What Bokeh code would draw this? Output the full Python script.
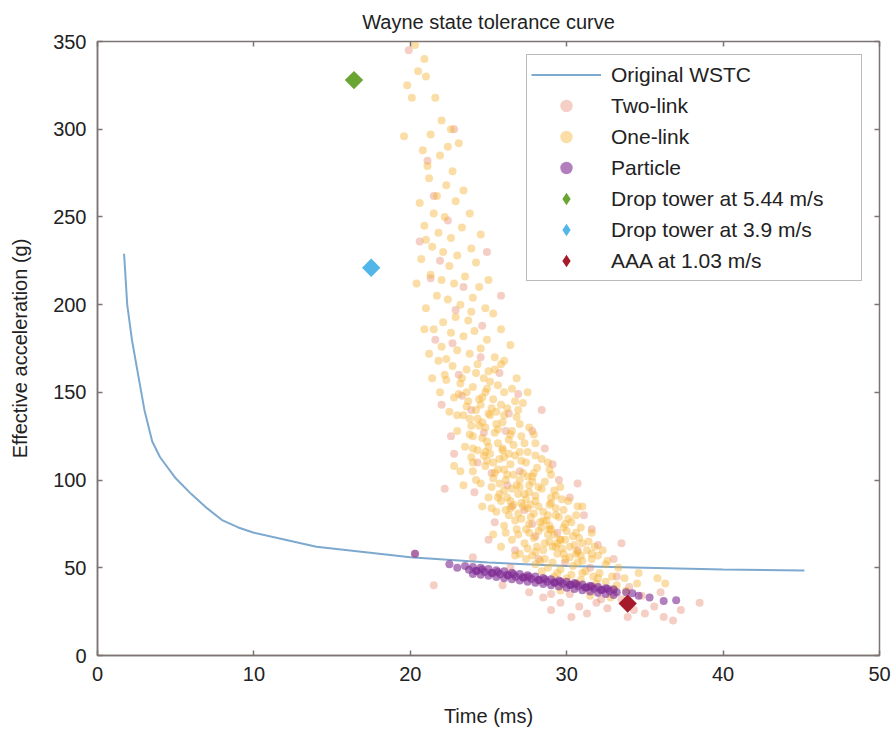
import math
from bokeh.plotting import figure
from bokeh.models import Legend, LegendItem, LinearAxis, Range1d, FixedTicker
from bokeh.embed import file_html
from bokeh.resources import INLINE

# ---- data ----
wstc_t = [1.7, 1.9, 2.2, 2.6, 3.0, 3.5, 4.0, 5.0, 6.0, 7.0, 8.0, 9.0, 10.0, 12.0, 14.0, 17.0, 20.0, 25.0, 30.0, 35.0, 40.0, 45.2]
wstc_g = [229, 200, 180, 160, 140, 122, 113, 101, 92, 84, 77, 73, 70, 66, 62, 59, 56, 53, 51, 50, 49, 48.5]

one_link_t = [20.3, 20.9, 19.8, 21.0, 21.6, 20.5, 22.0, 21.3, 22.6, 20.8, 21.9, 23.1, 19.6,
              21.2, 22.3, 21.7, 20.6, 22.9, 23.4, 21.5, 22.2,
              20.9, 21.8, 22.6, 23.3, 21.4, 22.1, 23.0, 23.9, 20.7, 22.5, 24.2,
              21.3, 22.0, 22.8, 23.5, 24.4, 21.7, 22.4, 23.2, 24.0, 24.8, 21.0, 22.9, 23.7, 22.1, 25.3,
              21.5, 22.6, 23.4, 24.1, 24.9, 22.0, 23.0, 23.8, 24.5, 25.4, 21.8, 22.7, 23.6, 24.3, 25.0, 26.0, 21.2, 24.7,
              22.3, 23.2, 24.0, 24.8, 25.6, 26.5, 22.8, 23.7, 24.5, 25.3, 26.2, 27.2, 22.5, 23.4, 24.3, 25.0, 25.9, 26.8, 23.9, 24.8, 27.6, 21.9,
              23.0, 23.8, 24.6, 25.4, 26.3, 27.1, 28.0, 23.5, 24.3, 25.1, 25.9, 26.7, 27.5, 28.4, 24.0, 24.8, 25.6, 26.4, 27.2, 28.1, 29.0, 23.2, 25.3, 26.1,
              24.5, 25.2, 26.0, 26.8, 27.6, 28.4, 29.3, 25.0, 25.8, 26.6, 27.4, 28.2, 29.0, 29.8, 25.5, 26.3, 27.1, 27.9, 28.7, 29.5, 30.3, 24.6, 31.0,
              26.0, 26.8, 27.6, 28.4, 29.2, 30.0, 30.8, 26.5, 27.3, 28.1, 28.9, 29.7, 30.5, 31.3, 27.0, 27.8, 28.6, 29.4, 30.2, 31.0, 32.0, 25.8, 32.5,
              28.0, 28.8, 29.6, 30.4, 31.2, 32.1, 29.2, 30.0, 30.9, 31.7, 32.5, 33.2, 31.4, 35.8, 33.8,
              24.2, 25.5, 26.6, 27.8, 28.8, 25.7, 26.9, 24.9, 23.6, 27.4,
              24.4, 25.9, 27.0, 28.3, 29.6, 26.2, 27.7, 25.1, 24.7, 28.9, 30.6, 26.4, 25.6, 29.1, 27.5,
              23.1, 24.6, 25.8, 26.9, 23.8, 25.5, 26.5, 24.0, 25.0, 27.9,
              23.9, 24.9, 26.0, 27.0, 28.8, 25.4, 26.6, 27.8, 28.6, 29.6, 24.2, 25.7, 27.1, 28.0, 29.2, 30.1, 26.2, 24.0, 23.4, 22.8,
              25.2, 26.1, 27.5, 28.5, 29.3, 30.6, 26.7, 27.6, 28.9, 29.9, 30.9, 31.6, 26.9, 27.9, 28.8, 29.6, 30.4, 31.4, 27.5, 28.5, 29.3, 30.7, 31.8, 32.3, 26.1, 25.3,
              28.3, 29.1, 29.9, 30.7, 31.6, 32.6, 28.4, 29.4, 30.3, 31.0, 32.0, 32.9, 33.3, 30.6, 31.9, 33.0, 34.5, 36.3, 31.5, 32.8, 29.6, 26.7, 27.4, 33.7, 34.6,
              20.1, 22.4, 21.1, 22.7, 23.8, 21.0, 24.5, 20.4, 25.0, 23.9, 25.8, 26.4, 22.3, 25.8, 26.8, 27.5, 21.4, 20.9,
              23.3, 24.2, 25.1, 26.0, 24.4, 25.2, 26.0, 27.0, 24.6, 25.6, 26.4, 27.3, 24.8, 25.6, 26.3, 27.1, 28.0, 25.3, 26.0, 27.0,
              27.9, 28.9, 25.7, 26.5, 27.3, 28.2, 29.0, 26.4, 27.2, 28.0, 28.9, 29.7, 26.9, 27.7, 28.5, 29.3, 30.1, 27.4, 28.2, 29.0,
              29.8, 30.6, 28.6, 29.4, 30.2, 31.0, 28.0, 29.8, 30.9, 31.6, 24.9, 23.6, 26.7, 25.4, 23.0, 22.2, 24.0, 27.6, 30.7, 29.9]
one_link_g = [348, 340, 325, 330, 318, 333, 305, 297, 300, 288, 285, 292, 296,
              272, 268, 262, 258, 259, 265, 252, 250,
              245, 241, 238, 244, 233, 230, 228, 232, 226, 222, 224,
              217, 214, 212, 216, 210, 205, 203, 200, 204, 198, 198, 193, 191, 190, 195,
              186, 184, 182, 185, 180, 176, 174, 172, 175, 170, 168, 165, 163, 166, 162, 168, 172, 158,
              157, 155, 153, 150, 154, 152, 147, 145, 143, 146, 141, 144, 139, 137, 135, 138, 133, 136, 131, 130, 130, 150,
              128, 126, 124, 127, 123, 125, 121, 119, 117, 115, 118, 114, 116, 112, 110, 108, 106, 109, 104, 107, 103, 105, 101, 100,
              98, 96, 94, 97, 93, 95, 91, 90, 88, 86, 89, 85, 87, 83, 82, 80, 78, 81, 77, 79, 76, 85, 85,
              74, 72, 70, 73, 69, 71, 67, 66, 64, 62, 65, 61, 63, 60, 58, 57, 55, 58, 56, 54, 57, 62, 52,
              52, 50, 49, 51, 48, 47, 45, 44, 43, 45, 42, 40, 39, 44, 37,
              140, 132, 120, 99, 80, 112, 92, 122, 150, 110,
              131, 117, 96, 76, 66, 103, 86, 137, 114, 72, 58, 84, 90, 62, 102,
              149, 147, 143, 140, 135, 139, 128, 125, 119, 126,
              113, 111, 113, 116, 110, 104, 103, 102, 99, 96, 100, 92, 87, 91, 94, 88, 90, 105, 97, 108,
              84, 83, 84, 82, 84, 80, 77, 75, 74, 75, 73, 70, 69, 67, 69, 66, 68, 65, 61, 60, 62, 59, 62, 60, 70, 69,
              54, 53, 55, 53, 55, 54, 48, 47, 46, 47, 44, 45, 50, 41, 41, 38, 41, 41, 34, 33, 37, 57, 55, 44, 47,
              318, 290, 279, 276, 252, 237, 240, 212, 214, 196, 186, 177, 169, 166, 158, 150, 158, 186,
              158, 161, 156, 150, 146, 141, 137, 132, 133, 129, 126, 121, 116, 121, 115, 111, 114, 110, 106, 100,
              104, 106, 98, 95, 92, 96, 90, 88, 85, 88, 86, 89, 81, 79, 77, 80, 78, 72, 71, 72,
              73, 70, 64, 64, 62, 64, 59, 58, 57, 58, 152, 142, 145, 163, 137, 160, 118, 97, 85, 66]

two_link_t = [19.9, 21.1, 22.4, 20.6, 22.9, 21.6, 24.6, 23.1, 22.0, 25.7, 26.9, 23.9, 24.7, 27.8, 22.8,
              25.2, 28.6, 29.5, 26.2, 24.1, 27.3, 30.2, 25.4, 28.0, 31.6, 26.7, 29.9, 33.0, 27.4, 21.5,
              20.3, 28.5, 29.6, 30.8, 31.9, 32.6, 33.5, 34.3, 35.0, 36.2, 36.8, 34.8, 35.6, 38.5, 30.2,
              31.3, 29.0, 25.9, 24.0, 26.1, 23.4, 21.9, 24.5, 27.0, 25.0, 22.2, 32.0, 33.2, 34.0, 26.4,
              22.8, 21.5, 24.9, 22.7, 23.3, 26.3, 28.4, 24.3, 29.1, 30.7, 26.5, 31.1, 27.8, 29.4, 33.5,
              30.7, 28.2, 31.5, 29.0, 32.2, 33.9, 30.3, 36.0, 37.3, 27.6, 22.6, 21.3, 25.8]
two_link_g = [345, 282, 248, 236, 197, 180, 188, 160, 143, 161, 149, 140, 127, 128, 115,
              104, 118, 100, 97, 93, 83, 90, 76, 68, 72, 60, 53, 55, 45, 40,
              58, 33, 30, 28, 30, 27, 32, 26, 24, 22, 20, 34, 28, 30, 35,
              24, 26, 40, 56, 128, 210, 225, 170, 105, 66, 95, 63, 45, 39, 50,
              300, 262, 230, 178, 148, 138, 140, 110, 109, 98, 85, 80, 75, 70, 64,
              60, 55, 50, 35, 32, 22, 22, 36, 26, 36, 125, 215, 205]

particle_t = [23.5, 24.0, 24.5, 25.0, 25.5, 26.0, 26.5, 27.0, 27.5, 28.0, 28.5, 29.0, 29.5, 30.0, 30.5, 31.0, 31.5, 32.0, 32.5, 33.0,
              24.0, 24.5, 25.0, 25.5, 26.0, 26.5, 27.0, 27.5, 28.0, 28.5, 29.0, 29.5, 30.0, 30.5, 31.0, 31.5, 32.0, 32.5, 33.0,
              24.2, 25.2, 26.2, 27.2, 28.2, 29.2, 30.2, 31.2, 32.2, 33.2,
              23.75, 24.25, 24.75, 25.25, 25.75, 26.25, 26.75, 27.25, 27.75, 28.25, 28.75, 29.25, 29.75, 30.25, 30.75, 31.25, 31.75, 32.25, 32.75,
              24.6, 25.6, 26.6, 27.6, 28.6, 29.6, 30.6, 31.6, 32.6,
              22.5, 20.3, 23.0, 33.8, 34.6, 35.3, 36.2, 37.0, 34.2]
particle_g = [51, 50.5, 50, 49.3, 48.6, 48, 47.2, 46.5, 45.8, 45, 44.2, 43.5, 42.7, 42, 41.3, 40.5, 39.8, 39, 38.3, 37.6,
              46.5, 46, 45.4, 44.8, 44.1, 43.5, 42.8, 42.1, 41.4, 40.7, 40, 39.3, 38.6, 37.9, 37.2, 36.5, 35.8, 35.1, 34.5,
              48.3, 47.2, 46, 44.6, 43.2, 41.8, 40.3, 38.8, 37.4, 36,
              48.9, 48.2, 47.6, 46.9, 46.3, 45.6, 44.9, 44.3, 43.6, 42.9, 42.2, 41.5, 40.9, 40.2, 39.5, 38.8, 38.1, 37.5, 36.8,
              49.0, 47.6, 46.3, 44.9, 43.5, 42.2, 40.8, 39.4, 38.1,
              52, 58, 50, 36, 34, 33, 31, 31.5, 35.5]

drop544_t, drop544_g = [16.4], [328]
drop39_t, drop39_g = [17.5], [221]
aaa_t, aaa_g = [33.9], [29.6]

x_ticks = [0, 10, 20, 30, 40, 50]
y_ticks = [0, 50, 100, 150, 200, 250, 300, 350]

FONT = "Liberation Sans"
AXC = "#7d7373"
TXT = "#222222"
GREEN, BLUE, RED = "#6aa432", "#52b6e8", "#a61b2b"

p = figure(width=894, height=729, output_backend="svg", toolbar_location=None,
           x_range=Range1d(0, 50), y_range=Range1d(0, 350),
           title="Wayne state tolerance curve",
           min_border_left=97, min_border_right=15, min_border_top=41, min_border_bottom=73)
p.title.align = "center"
p.title.text_font = FONT
p.title.text_font_size = "20px"
p.title.text_font_style = "normal"
p.title.text_color = TXT
p.title.standoff = 17
p.grid.visible = False
p.outline_line_color = AXC
p.outline_line_width = 1.5

for ax in (p.xaxis[0], p.yaxis[0]):
    ax.axis_line_color = AXC
    ax.axis_line_width = 1.5
    ax.major_tick_line_color = AXC
    ax.major_tick_line_width = 1.5
    ax.major_tick_in = 5
    ax.major_tick_out = 0
    ax.minor_tick_line_color = None
    ax.major_label_text_font = FONT
    ax.major_label_text_font_size = "20px"
    ax.major_label_text_color = TXT
    ax.axis_label_text_font = FONT
    ax.axis_label_text_font_size = "20px"
    ax.axis_label_text_font_style = "normal"
    ax.axis_label_text_color = TXT
p.xaxis[0].ticker = FixedTicker(ticks=x_ticks)
p.yaxis[0].ticker = FixedTicker(ticks=y_ticks)
p.xaxis[0].axis_label = "Time (ms)"
p.yaxis[0].axis_label = "Effective acceleration (g)"
p.xaxis[0].major_label_standoff = 11
p.yaxis[0].major_label_standoff = 11
p.xaxis[0].axis_label_standoff = 21
p.yaxis[0].axis_label_standoff = 19

top = LinearAxis(ticker=FixedTicker(ticks=x_ticks), major_label_text_font_size="0px",
                 axis_line_color=AXC, major_tick_line_color=AXC, major_tick_in=5, major_tick_out=0,
                 minor_tick_line_color=None, major_tick_line_width=1.5, major_label_standoff=0)
right = LinearAxis(ticker=FixedTicker(ticks=y_ticks), major_label_text_font_size="0px",
                   axis_line_color=AXC, major_tick_line_color=AXC, major_tick_in=5, major_tick_out=0,
                   minor_tick_line_color=None, major_tick_line_width=1.5, major_label_standoff=0)
p.add_layout(top, "above")
p.add_layout(right, "right")

r_wstc = p.line(wstc_t, wstc_g, line_color="#7ea9cf", line_width=2)
r_two = p.scatter(two_link_t, two_link_g, size=8, fill_color="#e3755a", fill_alpha=0.35, line_color=None)
r_one = p.scatter(one_link_t, one_link_g, size=8, fill_color="#f5b02e", fill_alpha=0.42, line_color=None)
r_part = p.scatter(particle_t, particle_g, size=8, fill_color="#7e2a92", fill_alpha=0.6, line_color=None)
# plain diamonds (used as legend swatches), covered by the wider rotated squares drawn on top
l_d1 = p.scatter(drop544_t, drop544_g, marker="diamond", size=13, fill_color=GREEN, line_color=None)
l_d2 = p.scatter(drop39_t, drop39_g, marker="diamond", size=13, fill_color=BLUE, line_color=None)
l_aaa = p.scatter(aaa_t, aaa_g, marker="diamond", size=13, fill_color=RED, line_color=None)
p.scatter(drop544_t, drop544_g, marker="square", angle=math.pi / 4, size=13, fill_color=GREEN, line_color=None)
p.scatter(drop39_t, drop39_g, marker="square", angle=math.pi / 4, size=13, fill_color=BLUE, line_color=None)
p.scatter(aaa_t, aaa_g, marker="square", angle=math.pi / 4, size=13, fill_color=RED, line_color=None)

legend = Legend(items=[
    LegendItem(label="Original WSTC", renderers=[r_wstc]),
    LegendItem(label="Two-link", renderers=[r_two]),
    LegendItem(label="One-link", renderers=[r_one]),
    LegendItem(label="Particle", renderers=[r_part]),
    LegendItem(label="Drop tower at 5.44 m/s", renderers=[l_d1]),
    LegendItem(label="Drop tower at 3.9 m/s", renderers=[l_d2]),
    LegendItem(label="AAA at 1.03 m/s", renderers=[l_aaa]),
], location=(429, 374))
legend.label_text_font = FONT
legend.label_text_font_size = "21px"
legend.label_text_color = TXT
legend.glyph_width = 70
legend.glyph_height = 31
legend.label_height = 31
legend.label_width = 246
legend.spacing = 0
legend.padding = 4
legend.margin = 0
legend.label_standoff = 10
legend.border_line_color = AXC
legend.border_line_width = 1.5
legend.background_fill_alpha = 1
p.add_layout(legend, "center")

open("out.html", "w").write(file_html(p, INLINE))
